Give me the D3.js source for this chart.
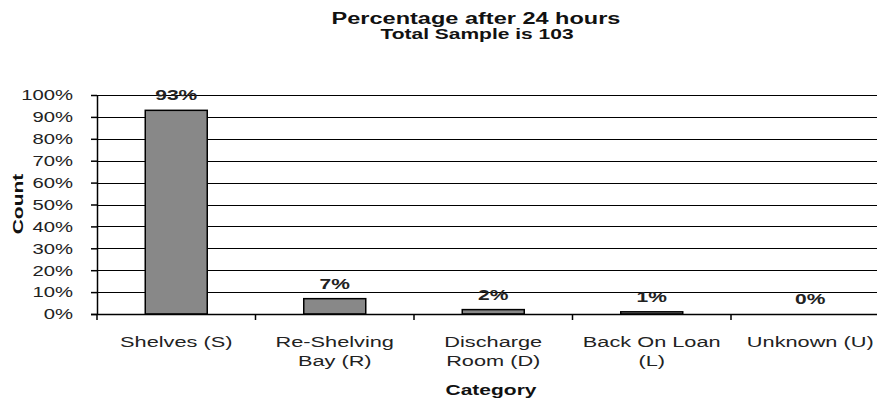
<!DOCTYPE html>
<html><head><meta charset="utf-8">
<script src="https://cdn.jsdelivr.net/npm/d3@7"></script>
<style>body{margin:0;background:#fff}svg{display:block;font-family:"Liberation Sans",Arial,sans-serif}</style>
</head><body><svg id="c" width="877" height="401"></svg>
<script>
const categories = ["Shelves (S)", "Re-Shelving Bay (R)", "Discharge Room (D)", "Back On Loan (L)", "Unknown (U)"];
const categoryLines = [["Shelves (S)"], ["Re-Shelving", "Bay (R)"], ["Discharge", "Room (D)"], ["Back On Loan", "(L)"], ["Unknown (U)"]];
const values = [0.93, 0.07, 0.02, 0.01, 0.00];
const valueLabels = ["93%", "7%", "2%", "1%", "0%"];
const yTicks = [0, 0.1, 0.2, 0.3, 0.4, 0.5, 0.6, 0.7, 0.8, 0.9, 1.0];
const title = "Percentage after 24 hours";
const subtitle = "Total Sample is 103";

(function() {
const svg = d3.select("#c");
const mLeft = 97, mTop = 95, mBottom = 314, bandW = 158.5;
const x = d3.scaleBand().domain(categories).range([mLeft, mLeft + bandW * categories.length]).paddingInner(0).paddingOuter(0);
const y = d3.scaleLinear().domain([0, 1]).range([mBottom, mTop]);

// gridlines
svg.append("g").selectAll("line").data(yTicks.slice(1)).join("line")
  .attr("x1", mLeft).attr("x2", 877).attr("y1", d => Math.round(y(d)) + 0.5).attr("y2", d => Math.round(y(d)) + 0.5)
  .attr("stroke", "#000").attr("stroke-width", 1.2);

// y axis
const ya = svg.append("g").attr("transform", `translate(${mLeft},0)`)
  .call(d3.axisLeft(y).tickValues(yTicks).tickFormat(d3.format(".0%")).tickSize(6).tickSizeOuter(0));
ya.select(".domain").attr("stroke", "#000").attr("stroke-width", 1.5);
ya.selectAll(".tick line").attr("stroke", "#000").attr("stroke-width", 1.5);
ya.selectAll("text").attr("font-size", 15).attr("fill", "#222").attr("x", 0)
  .attr("transform", "translate(-24,0) scale(1.35,1)").attr("font-family", "Liberation Sans, Arial, sans-serif");

// bars
svg.append("g").selectAll("rect").data(values).join("rect")
  .attr("x", (d, i) => x(categories[i]) + x.bandwidth() / 2 - 31)
  .attr("width", 62)
  .attr("y", d => y(d))
  .attr("height", d => mBottom - y(d))
  .attr("fill", "#888").attr("stroke", "#000").attr("stroke-width", 1.5);

// x axis
const xa = svg.append("g").attr("transform", `translate(0,${mBottom})`);
xa.append("line").attr("x1", mLeft - 6).attr("x2", 877).attr("y1", 0.5).attr("y2", 0.5).attr("stroke", "#000").attr("stroke-width", 1.5);
xa.selectAll("line.t").data(d3.range(categories.length + 1)).join("line").attr("class", "t")
  .attr("x1", i => mLeft + i * x.bandwidth()).attr("x2", i => mLeft + i * x.bandwidth())
  .attr("y1", 0).attr("y2", 6).attr("stroke", "#000").attr("stroke-width", 1.5);

// category labels
svg.append("g").selectAll("text").data(categories).join("text")
  .attr("transform", d => `translate(${x(d) + x.bandwidth() / 2},347) scale(1.45,1)`)
  .attr("text-anchor", "middle").attr("font-size", 15).attr("fill", "#222")
  .each(function(d, i) {
    d3.select(this).selectAll("tspan").data(categoryLines[i]).join("tspan")
      .attr("x", 0).attr("dy", (t, j) => j === 0 ? 0 : 19).text(t => t);
  });

// value labels
svg.append("g").selectAll("text").data(values).join("text")
  .attr("transform", (d, i) => `translate(${x(categories[i]) + x.bandwidth() / 2},${y(d) - 10}) scale(1.5,1)`)
  .attr("text-anchor", "middle").attr("font-size", 14).attr("font-weight", "bold").attr("fill", "#222")
  .text((d, i) => valueLabels[i]);

// titles
svg.append("text").attr("transform", "translate(476,24) scale(1.47,1)").attr("text-anchor", "middle")
  .attr("font-size", 16).attr("font-weight", "bold").attr("fill", "#111").text(title);
svg.append("text").attr("transform", "translate(477,39) scale(1.5,1)").attr("text-anchor", "middle")
  .attr("font-size", 14).attr("font-weight", "bold").attr("fill", "#111").text(subtitle);
svg.append("text").attr("transform", "translate(23,204) rotate(-90) scale(1.4,1)").attr("text-anchor", "middle")
  .attr("font-size", 15).attr("font-weight", "bold").attr("fill", "#111").text("Count");
svg.append("text").attr("transform", "translate(491,395) scale(1.4,1)").attr("text-anchor", "middle")
  .attr("font-size", 15).attr("font-weight", "bold").attr("fill", "#111").text("Category");
})();
</script></body></html>
